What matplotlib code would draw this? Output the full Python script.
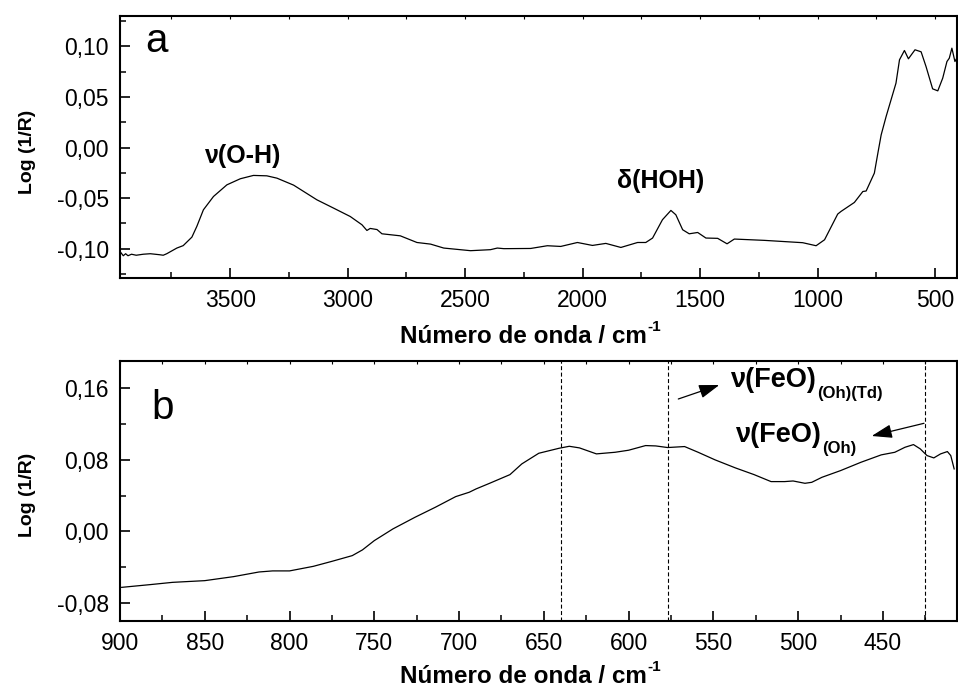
import matplotlib
matplotlib.use("Agg")
import matplotlib.pyplot as plt
from matplotlib.ticker import MultipleLocator, FixedLocator, FixedFormatter
from matplotlib.patches import FancyArrowPatch

plt.rcParams['font.family'] = ['Liberation Sans', 'DejaVu Sans']

# ---- data: panel a ----
top_wn = [3965, 3955, 3945, 3935, 3920, 3900, 3870, 3840, 3800, 3785, 3770, 3727, 3700,
          3663, 3642, 3614, 3571, 3514, 3457, 3401, 3344, 3301, 3230, 3131, 3060, 2989,
          2939, 2918, 2904, 2875, 2854, 2776, 2705, 2647, 2591, 2477, 2392, 2363, 2335,
          2221, 2150, 2093, 2022, 1958, 1901, 1837, 1766, 1731, 1702, 1660, 1624, 1603,
          1574, 1546, 1510, 1475, 1425, 1385, 1354, 1226, 1155, 1063, 1006, 970, 914,
          900, 843, 807, 793, 758, 743, 729, 708, 666, 651, 630, 613, 585, 559, 538,
          510, 488, 467, 449, 439, 428, 415, 408]
top_val = [-0.104, -0.107, -0.105, -0.107, -0.1055, -0.1065, -0.1055, -0.105, -0.106,
           -0.1065, -0.105, -0.0994, -0.097, -0.0886, -0.078, -0.0616, -0.0484, -0.0369,
           -0.0309, -0.0276, -0.028, -0.0303, -0.0372, -0.0517, -0.0599, -0.0682, -0.0764,
           -0.082, -0.080, -0.0811, -0.0853, -0.0873, -0.0939, -0.0955, -0.0994, -0.102,
           -0.101, -0.0994, -0.100, -0.0998, -0.0971, -0.0978, -0.0939, -0.0968, -0.0948,
           -0.0988, -0.0939, -0.0939, -0.0895, -0.0714, -0.0622, -0.0665, -0.0813, -0.0853,
           -0.084, -0.0895, -0.0898, -0.0952, -0.0905, -0.0918, -0.0928, -0.0941, -0.0971,
           -0.0912, -0.0658, -0.0632, -0.0543, -0.0435, -0.043, -0.0253, -0.0055, 0.0125,
           0.0306, 0.0636, 0.0867, 0.0959, 0.0877, 0.0966, 0.0946, 0.080, 0.058, 0.056,
           0.0686, 0.085, 0.0883, 0.0982, 0.085, 0.088]

# ---- data: panel b ----
bot_wn = [899, 882, 869, 850, 833, 818, 810, 800, 786, 775, 763, 757, 750, 739, 726, 714,
          702, 694, 690, 682, 670, 663, 653, 641, 635, 629, 619, 608, 600, 590, 584, 577,
          567, 559, 549, 537, 526, 516, 508, 503, 496, 492, 486, 475, 463, 451, 443, 437,
          432, 428, 424, 420, 416, 412, 410, 408]
bot_val = [-0.0627, -0.0596, -0.0571, -0.0552, -0.0507, -0.0455, -0.0443, -0.0443, -0.0392,
           -0.0336, -0.0272, -0.0208, -0.0104, 0.0027, 0.0157, 0.0269, 0.0388, 0.0437,
           0.0474, 0.0537, 0.0634, 0.0754, 0.0873, 0.0929, 0.0951, 0.0933, 0.0866, 0.0884,
           0.0907, 0.0959, 0.0955, 0.0937, 0.0948, 0.0884, 0.0799, 0.0709, 0.0634, 0.0556,
           0.0556, 0.0563, 0.0537, 0.0548, 0.0604, 0.0679, 0.0772, 0.0855, 0.0884, 0.094,
           0.097, 0.0922, 0.0847, 0.0821, 0.0866, 0.0892, 0.0847, 0.0698]
dashed_wn = [640, 577, 425]

top_yticks = [-0.10, -0.05, 0.00, 0.05, 0.10]
top_ylabels = ['-0,10', '-0,05', '0,00', '0,05', '0,10']
top_xticks = [3500, 3000, 2500, 2000, 1500, 1000, 500]
bot_yticks = [-0.08, 0.00, 0.08, 0.16]
bot_ylabels = ['-0,08', '0,00', '0,08', '0,16']
bot_xticks = [900, 850, 800, 750, 700, 650, 600, 550, 500, 450]

W, H = 958, 690
fig = plt.figure(figsize=(W / 100, H / 100), dpi=100)

def fx(px):
    return px / W

def fy(py):
    return 1 - py / H

ax1 = fig.add_axes([fx(120), fy(278), fx(956.7) - fx(120), fy(16) - fy(278)])
ax2 = fig.add_axes([fx(120), fy(620.7), fx(956.7) - fx(120), fy(361) - fy(620.7)])

ax1.plot(top_wn, top_val, color='black', lw=0.9)
ax2.plot(bot_wn, bot_val, color='black', lw=0.9)
for w in dashed_wn:
    ax2.axvline(w, color='black', lw=0.8, linestyle=(0, (3.6, 2.2)))

ax1.set_xlim(3969, 407.5)
ax1.set_ylim(-0.129, 0.130)
ax2.set_xlim(900, 406.5)
ax2.set_ylim(-0.100, 0.1905)

ax1.yaxis.set_major_locator(FixedLocator(top_yticks))
ax1.yaxis.set_major_formatter(FixedFormatter(top_ylabels))
ax1.yaxis.set_minor_locator(MultipleLocator(0.025))
ax1.xaxis.set_major_locator(FixedLocator(top_xticks))
ax1.xaxis.set_minor_locator(MultipleLocator(250))

ax2.yaxis.set_major_locator(FixedLocator(bot_yticks))
ax2.yaxis.set_major_formatter(FixedFormatter(bot_ylabels))
ax2.yaxis.set_minor_locator(MultipleLocator(0.04))
ax2.xaxis.set_major_locator(FixedLocator(bot_xticks))
ax2.xaxis.set_minor_locator(MultipleLocator(25))

for ax in (ax1, ax2):
    for s in ax.spines.values():
        s.set_linewidth(1.5)
    ax.tick_params(which='major', direction='in', length=7, width=1.2,
                   labelsize=16.5, pad=8, top=True, right=False)
    ax.tick_params(which='minor', direction='in', length=4.3, width=1.1,
                   top=True, right=False)
    for t in ax.xaxis.get_major_ticks() + ax.xaxis.get_minor_ticks():
        t.tick2line.set_markersize(2)
        t.tick2line.set_markeredgewidth(0.8)

# y labels
for yc in (151.7, 495):
    fig.text(fx(27), fy(yc), 'Log (1/R)', rotation=90, ha='center', va='center',
             fontsize=14, fontweight='bold')

fig.canvas.draw()
renderer = fig.canvas.get_renderer()


def text_with_sub(x, yb, main, sub, size_main, size_sub, drop, weight='bold', gap=1.0):
    t = fig.text(fx(x), fy(yb), main, fontsize=size_main, fontweight=weight,
                 va='baseline', ha='left')
    bb = t.get_window_extent(renderer=renderer)
    xr = bb.x1 + gap
    fig.text(xr / W, fy(yb + drop), sub, fontsize=size_sub, fontweight=weight,
             va='baseline', ha='left')
    return t


# x labels (main text + small superscript)
for yb in (343, 683):
    t = fig.text(fx(400), fy(yb), 'Número de onda / cm', ha='left', va='baseline',
                 fontsize=17.5, fontweight='bold')
    bb = t.get_window_extent(renderer=renderer)
    fig.text((bb.x1 + 1) / W, fy(yb - 12), '-1', fontsize=11, fontweight='bold',
             va='baseline', ha='left')

# panel letters
fig.text(fx(145), fy(51.7), 'a', fontsize=29, va='baseline', ha='left')
fig.text(fx(151.7), fy(419), 'b', fontsize=29, va='baseline', ha='left')

# band labels
fig.text(fx(205), fy(163.3), 'ν(O-H)', fontsize=18, fontweight='bold', va='baseline')
fig.text(fx(616.7), fy(188.3), 'δ(HOH)', fontsize=18, fontweight='bold', va='baseline')

text_with_sub(730, 386.7, 'ν(FeO)', '(Oh)(Td)', 19.5, 12, 11)
text_with_sub(735, 442.3, 'ν(FeO)', '(Oh)', 19.5, 12, 11)

for (x0, y0, x1, y1) in [(678.3, 399, 719.3, 385), (924, 423.3, 871.7, 436)]:
    arr = FancyArrowPatch((fx(x0), fy(y0)), (fx(x1), fy(y1)), transform=fig.transFigure,
                          arrowstyle='-|>,head_length=1.25,head_width=0.42',
                          mutation_scale=10, color='black', lw=0.9,
                          shrinkA=0, shrinkB=0)
    fig.patches.append(arr)

fig.savefig('out.png', dpi=100)
